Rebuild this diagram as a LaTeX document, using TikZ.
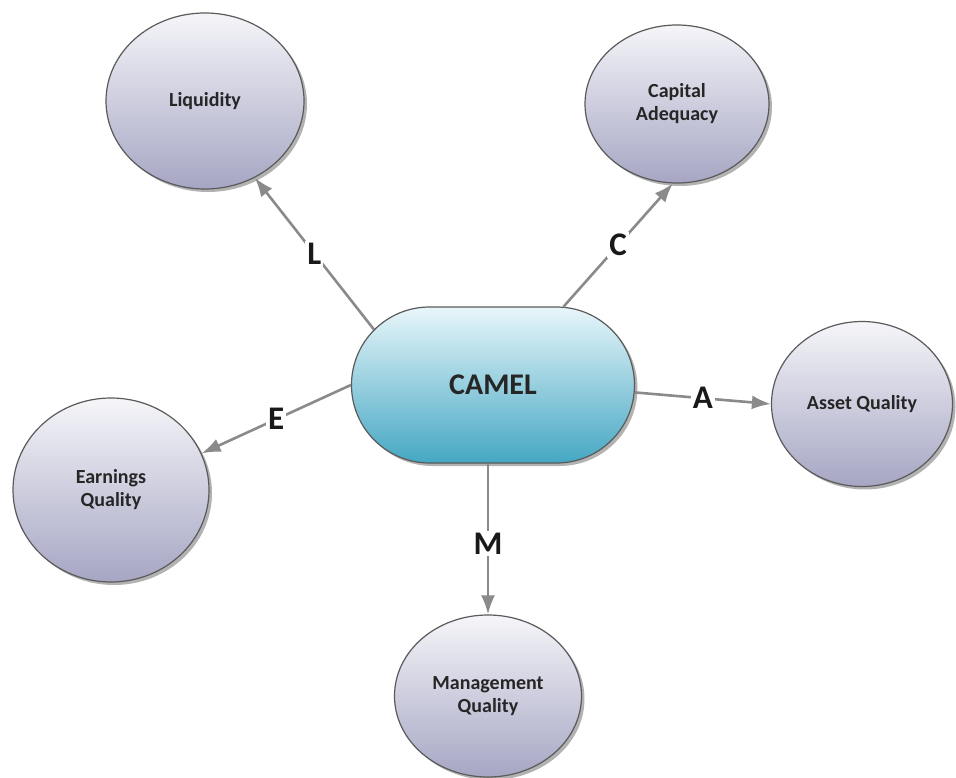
\documentclass[tikz,border=0pt]{standalone}
\usepackage{fontspec}
\setmainfont{Carlito}
\usepackage{tikz}
\usetikzlibrary{shapes.geometric,shapes.misc,shadows,arrows.meta}
\definecolor{bubbletop}{HTML}{F5F5F9}
\definecolor{bubblebot}{HTML}{A6A6C4}
\definecolor{cameltop}{HTML}{E8F6FA}
\definecolor{camelbot}{HTML}{45A7C3}
\definecolor{edgegray}{HTML}{5A5A5A}
\definecolor{arrowgray}{HTML}{8A8A8A}

\begin{document}
\begin{tikzpicture}[x=1pt,y=-1pt,
  bubble/.style={ellipse,draw=edgegray,line width=1.2pt,inner sep=0pt,
    top color=bubbletop,bottom color=bubblebot,align=center,
    font=\fontsize{20}{23}\selectfont\bfseries,text=black!85,
    drop shadow={shadow xshift=3pt,shadow yshift=-3pt,opacity=0.3,fill=black}},
  hub/.style={rounded rectangle,draw=edgegray,line width=1.2pt,inner sep=0pt,
    minimum width=283pt,minimum height=156pt,
    top color=cameltop,bottom color=camelbot,
    font=\fontsize{30}{34}\selectfont\bfseries,text=black!85,
    drop shadow={shadow xshift=3pt,shadow yshift=-3pt,opacity=0.3,fill=black}},
  arr/.style={-{Latex[length=19pt,width=14pt]},draw=arrowgray,line width=2.6pt},
  lbl/.style={fill=white,inner sep=2pt,text=black!90,
    font=\fontsize{33}{36}\selectfont\bfseries}]

  \useasboundingbox (0,0) rectangle (956,778);

  \node[hub] (camel) at (493,385) {CAMEL};

  \node[bubble,minimum width=198pt,minimum height=176pt] (liq) at (205,101) {Liquidity};
  \node[bubble,minimum width=184pt,minimum height=158pt] (cap) at (677,104) {Capital\\Adequacy};
  \node[bubble,minimum width=181pt,minimum height=165pt] (asset) at (862,404) {Asset Quality};
  \node[bubble,minimum width=196pt,minimum height=184pt] (earn) at (111,490) {Earnings\\Quality};
  \node[bubble,minimum width=187pt,minimum height=162pt] (mgmt) at (488,696) {Management\\Quality};

  \draw[arr] (camel.155) -- node[lbl] (lL) {L} (liq.303);
  \draw[arr] (camel.48) -- node[lbl] (lC) {C} (cap.267);
  \draw[arr] (camel.357) -- node[lbl] (lA) {A} (asset.west);
  \draw[arr] (camel.west) -- node[lbl] (lE) {E} (earn.22);
  \draw[arr] (camel.south -| mgmt.north) -- node[lbl,pos=0.53] (lM) {M} (mgmt.north);
\end{tikzpicture}
\end{document}
